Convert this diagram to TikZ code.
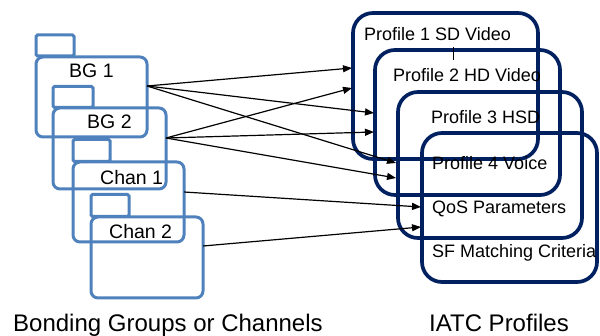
\documentclass[tikz,border=0pt]{standalone}
\usepackage{fontspec}
\setmainfont{Liberation Sans}
\usetikzlibrary{arrows.meta}
\definecolor{fold}{RGB}{79,129,189}
\definecolor{navy}{RGB}{0,32,96}
\begin{document}
\begin{tikzpicture}[x=1pt,y=-1pt,
  folder/.style={draw=fold,line width=3pt,rounded corners=7pt,inner sep=0pt,outer sep=0pt},
  tabbox/.style={draw=fold,line width=3pt,rounded corners=1.5pt,inner sep=0pt,outer sep=0pt,minimum width=38pt,minimum height=21pt},
  profile/.style={draw=navy,line width=3.7pt,rounded corners=20pt,inner sep=0pt,outer sep=0pt},
  flbl/.style={font=\fontsize{19.5}{23}\selectfont,inner sep=0pt,anchor=base west},
  ptxt/.style={font=\fontsize{18}{22}\selectfont,inner sep=0pt,anchor=base west},
  blbl/.style={font=\fontsize{24}{28}\selectfont,inner sep=0pt,anchor=base west},
  conn/.style={line width=1.2pt,-{Triangle[length=9pt,width=7pt]}}]
\useasboundingbox (0,0) rectangle (600,336);

% folders (tabs + bodies)
\node[tabbox] (t1) at (55,45.5) {};
\node[folder,minimum width=111pt,minimum height=80pt] (bg1) at (91.5,97) {};
\node[tabbox,minimum width=40pt] (t2) at (73,97) {};
\node[folder,minimum width=113pt,minimum height=81pt] (bg2) at (109.5,148.5) {};
\node[tabbox,minimum width=37pt,minimum height=22pt] (t3) at (91.5,150.5) {};
\node[folder,minimum width=111pt,minimum height=80pt] (ch1) at (128.5,202) {};
\node[tabbox,minimum width=38pt,minimum height=22pt] (t4) at (110,205.5) {};
\node[folder,minimum width=112pt,minimum height=81pt] (ch2) at (147,257.5) {};

\node[flbl] (l1) at (69,78) {BG 1};
\node[flbl] (l2) at (87,129) {BG 2};
\node[flbl] (l3) at (100,185) {Chan 1};
\node[flbl] (l4) at (109,239) {Chan 2};

% profiles
\node[profile,minimum width=185pt,minimum height=146pt] (p1) at (445.5,86) {};
\node[profile,minimum width=185pt,minimum height=145pt] (p2) at (467.5,122.5) {};
\node[profile,minimum width=184pt,minimum height=146pt] (p3) at (490,165) {};
\node[profile,minimum width=175pt,minimum height=149pt] (p4) at (509.5,207.5) {};

\node[ptxt] (x1) at (364,40.4) {Profile 1 SD Video};
\node[ptxt] (x2) at (393,81.4) {Profile 2 HD Video};
\node[ptxt] (x3) at (431,123.4) {Profile 3 HSD};
\node[ptxt] (x4) at (432,169.4) {Profile 4 Voice};
\node[ptxt] (x5) at (432,213.4) {QoS Parameters};
\node[ptxt] (x6) at (432,257.4) {SF Matching Criteria};

% small tick mark
\coordinate (k1) at (453,47);
\coordinate (k2) at (453,60);
\draw[line width=0.9pt] (k1) -- (k2);

% connector sources
\coordinate (s1) at ([yshift=11pt]bg1.east);
\coordinate (s2) at ([yshift=10.5pt]bg2.east);
\coordinate (s3) at ([yshift=10pt]ch1.east);
\coordinate (s4) at ([yshift=11.5pt]ch2.east);

% connectors
\draw[conn] (s1) -- ([xshift=-1pt,yshift=18pt]p1.west);
\draw[conn] (s1) -- ([xshift=-1pt,yshift=9.5pt]p2.west);
\draw[conn] (s1) -- ([xshift=-2pt,yshift=2pt]p3.west);
\draw[conn] (s2) -- ([xshift=-1pt,yshift=-2pt]p1.west);
\draw[conn] (s2) -- ([xshift=-1pt,yshift=-9.5pt]p2.west);
\draw[conn] (s2) -- ([xshift=-2pt,yshift=-13pt]p3.west);
\draw[conn] (s3) -- ([xshift=-1pt,yshift=0.5pt]p4.west);
\draw[conn] (s4) -- ([xshift=-1pt,yshift=-19.5pt]p4.west);

% bottom labels
\node[blbl] (b1) at (13,332) {Bonding Groups or Channels};
\node[blbl] (b2) at (429,332) {IATC Profiles};
\end{tikzpicture}
\end{document}
